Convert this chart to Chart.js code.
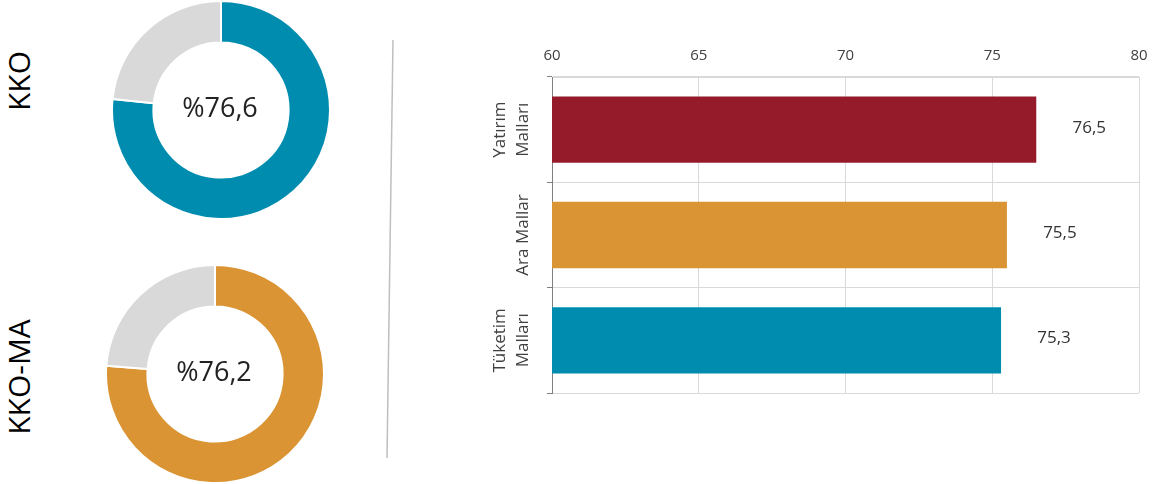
<!DOCTYPE html>
<html>
<head>
<meta charset="utf-8">
<script src="https://cdn.jsdelivr.net/npm/chart.js@4"></script>
<style>
  html, body { margin: 0; padding: 0; background: #fff; width: 1153px; height: 484px; overflow: hidden; font-family: 'Open Sans', sans-serif; }
  canvas { position: absolute; }
  .side { position: absolute; font-family: 'Open Sans', sans-serif; font-size: 30px; color: #000; transform: translate(-50%, -50%) rotate(-90deg); white-space: nowrap; line-height: 1; }
  #sep { position: absolute; left: 0; top: 0; }
</style>
</head>
<body>
<div class="side" id="lab0" style="left:19px; top:81px;"></div>
<div class="side" id="lab1" style="left:19px; top:377px;"></div>
<svg id="sep" width="1153" height="484"><line x1="393" y1="40" x2="387" y2="458" stroke="#bfbfbf" stroke-width="1.5"/></svg>
<canvas id="d0" width="220" height="220" style="left:111px; top:0px;"></canvas>
<canvas id="d1" width="220" height="220" style="left:105px; top:264px;"></canvas>
<canvas id="bar" width="713" height="364" style="left:440px; top:30px;"></canvas>
<script>
// ---- data ----
const donutLabels = ['KKO', 'KKO-MA'];
const donutValues = [76.6, 76.2];
const donutColors = ['#008caf', '#da9433'];

const barCategories = [['Yatırım', 'Malları'], ['', 'Ara Mallar'], ['Tüketim', 'Malları']];
const barValues = [76.5, 75.5, 75.3];
const barColors = ['#951b2b', '#da9433', '#008caf'];

const xMin = 60, xMax = 80, xStep = 5;

const fmt = v => v.toFixed(1).replace('.', ',');

Chart.defaults.font.family = "'Open Sans', sans-serif";
Chart.defaults.color = '#404040';

const centerText = {
  id: 'centerText',
  afterDraw(chart) {
    const arc = chart.getDatasetMeta(0).data[0];
    const ctx = chart.ctx;
    ctx.save();
    ctx.font = "27px 'Open Sans', sans-serif";
    ctx.fillStyle = '#222';
    ctx.textAlign = 'center';
    ctx.textBaseline = 'middle';
    ctx.fillText('%' + fmt(chart.data.datasets[0].data[0]), arc.x - 1, arc.y - 1);
    ctx.restore();
  }
};

donutValues.forEach((v, i) => {
  document.getElementById('lab' + i).textContent = donutLabels[i];
  new Chart(document.getElementById('d' + i), {
    type: 'doughnut',
    data: {
      labels: [donutLabels[i], ''],
      datasets: [{
        data: [v, +(100 - v).toFixed(1)],
        backgroundColor: [donutColors[i], '#d9d9d9'],
        borderColor: '#ffffff',
        borderWidth: 2
      }]
    },
    options: {
      responsive: false,
      animation: false,
      cutout: '62%',
      layout: { padding: 0 },
      plugins: { legend: { display: false }, tooltip: { enabled: false } }
    },
    plugins: [centerText]
  });
});

const valueLabels = {
  id: 'valueLabels',
  afterDatasetsDraw(chart) {
    const ctx = chart.ctx;
    const meta = chart.getDatasetMeta(0);
    ctx.save();
    ctx.font = "17px 'Open Sans', sans-serif";
    ctx.fillStyle = '#333';
    ctx.textAlign = 'center';
    ctx.textBaseline = 'middle';
    meta.data.forEach((bar, i) => {
      ctx.fillText(fmt(chart.data.datasets[0].data[i]), bar.x + 53, bar.y - 2);
    });
    ctx.restore();
  }
};

new Chart(document.getElementById('bar'), {
  type: 'bar',
  data: {
    labels: barCategories,
    datasets: [{
      data: barValues,
      backgroundColor: barColors,
      barPercentage: 0.63,
      categoryPercentage: 1
    }]
  },
  options: {
    indexAxis: 'y',
    responsive: false,
    animation: false,
    layout: { padding: { left: 0, right: 14, top: 0, bottom: 1 } },
    plugins: { legend: { display: false }, tooltip: { enabled: false } },
    scales: {
      x: {
        position: 'top',
        min: xMin, max: xMax,
        ticks: { stepSize: xStep, padding: 12, font: { size: 15 }, color: '#404040' },
        grid: { color: '#d9d9d9', drawTicks: false, lineWidth: 1 },
        border: { color: '#d9d9d9' },
        afterFit(s) { s.height = 47; s.paddingLeft = 0; s.paddingRight = 0; }
      },
      y: {
        position: 'left',
        ticks: { minRotation: 90, maxRotation: 90, crossAlign: 'center', padding: -5, font: { size: 17, lineHeight: 1.35 }, color: '#404040' },
        grid: { color: '#d9d9d9', tickColor: '#808080', tickLength: 5, offset: true },
        border: { color: '#808080' },
        afterFit(s) { s.width = 112; s.paddingTop = 0; s.paddingBottom = 0; }
      }
    }
  },
  plugins: [valueLabels]
});
</script>
</body>
</html>
